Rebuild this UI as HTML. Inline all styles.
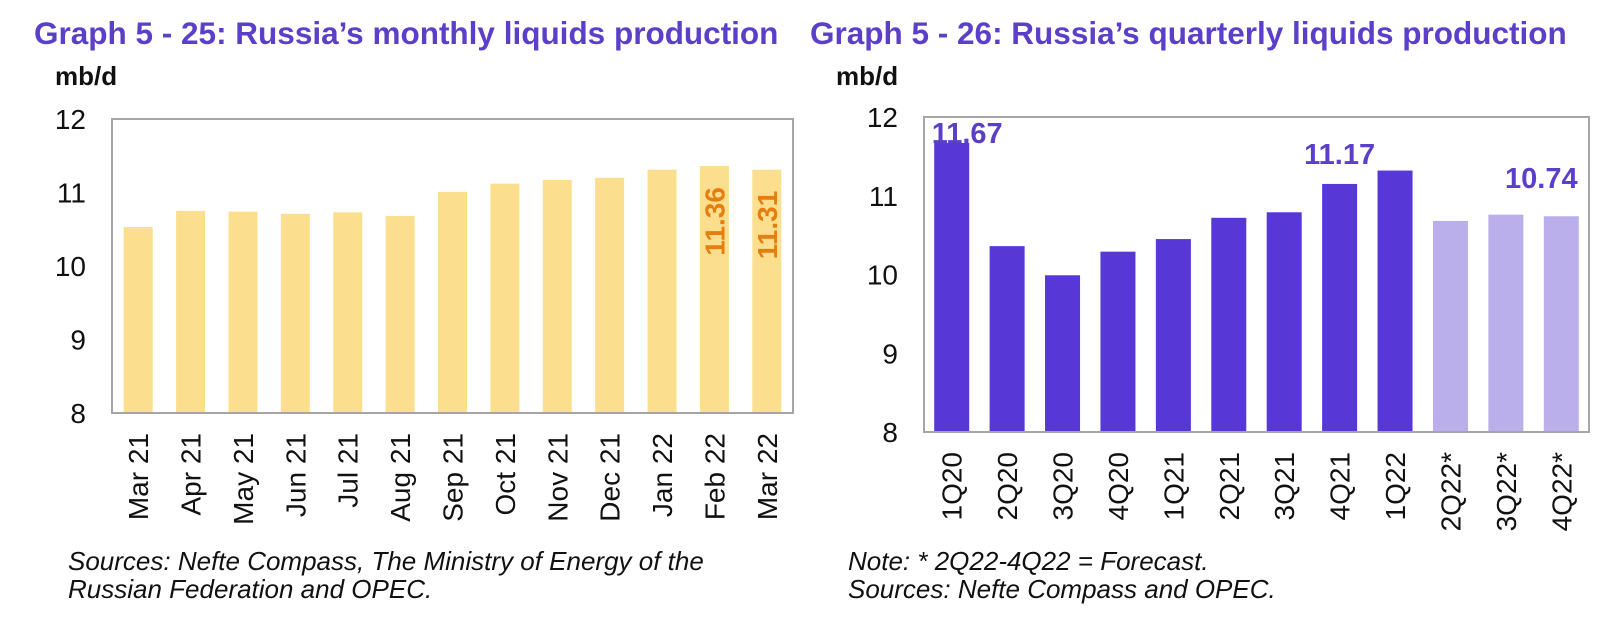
<!DOCTYPE html>
<html><head><meta charset="utf-8"><style>
html,body{margin:0;padding:0;background:#fff;}
svg{display:block;font-family:"Liberation Sans",Arial,sans-serif;}
</style></head><body>
<svg id="s" width="1615" height="624" viewBox="0 0 1615 624">
<text x="34" y="44" font-size="31.5" font-weight="bold" fill="#5B3FC9">Graph 5 - 25: Russia’s monthly liquids production</text>
<text x="55" y="85" font-size="26" font-weight="bold" fill="#111">mb/d</text>
<text x="810" y="44" font-size="31.5" font-weight="bold" fill="#5B3FC9">Graph 5 - 26: Russia’s quarterly liquids production</text>
<text x="836" y="85" font-size="26" font-weight="bold" fill="#111">mb/d</text>
<g id="L"></g>
<g id="R"></g>
<text x="68" y="570" font-size="26" font-style="italic" fill="#111">Sources: Nefte Compass, The Ministry of Energy of the</text>
<text x="68" y="598" font-size="26" font-style="italic" fill="#111">Russian Federation and OPEC.</text>
<text x="848" y="570" font-size="26" font-style="italic" fill="#111">Note: * 2Q22-4Q22 = Forecast.</text>
<text x="848" y="598" font-size="26" font-style="italic" fill="#111">Sources: Nefte Compass and OPEC.</text>
</svg>
<script>
const monthCats = ["Mar 21","Apr 21","May 21","Jun 21","Jul 21","Aug 21","Sep 21","Oct 21","Nov 21","Dec 21","Jan 22","Feb 22","Mar 22"];
const monthVals = [10.53,10.75,10.74,10.71,10.73,10.68,11.01,11.12,11.17,11.20,11.31,11.36,11.31];
const monthLabels = [null,null,null,null,null,null,null,null,null,null,null,"11.36","11.31"];
const quarterCats = ["1Q20","2Q20","3Q20","4Q20","1Q21","2Q21","3Q21","4Q21","1Q22","2Q22*","3Q22*","4Q22*"];
const quarterVals = [11.67,10.36,9.99,10.29,10.45,10.72,10.79,11.15,11.32,10.68,10.76,10.74];
const quarterForecast = [false,false,false,false,false,false,false,false,false,true,true,true];
const quarterLabels = ["11.67",null,null,null,null,null,null,"11.17",null,null,null,"10.74"];
const yTicks = [8,9,10,11,12];
const NS="http://www.w3.org/2000/svg";
function mk(p,t,a){const e=document.createElementNS(NS,t);for(const k in a)e.setAttribute(k,a[k]);p.appendChild(e);return e;}

function drawChart(g, cats, vals, o){
  const y = v => o.bottom - (v-8)/(12-8)*(o.bottom-o.top);
  const band = (o.right-o.left)/cats.length;
  const x = i => o.left + band*(i+0.5);
  yTicks.forEach(t=>{
    const e=mk(g,'text',{x:o.tickX,y:y(t)+10,'font-size':28,'text-anchor':'end',fill:'#111'});
    e.textContent=t;
    
    
  });
  cats.forEach((c,i)=>{
    const r=mk(g,'rect',{x:x(i)-o.bw/2,y:y(vals[i]),width:o.bw,height:o.bottom-y(vals[i]),fill:o.color(i)});
    
    
    const t=mk(g,'text',{x:0,y:0,'font-size':28,'text-anchor':'end',fill:'#111',transform:`translate(${x(i)+10},${o.bottom+20}) rotate(-90)`});
    t.textContent=c;
    
    
  });
  mk(g,'rect',{x:o.left,y:o.top,width:o.right-o.left,height:o.bottom-o.top,fill:'none',stroke:'#a6a6a6','stroke-width':2});
  return {x,y};
}

const L=document.getElementById('L');
const lf=drawChart(L,monthCats,monthVals,{left:112,right:793,top:119,bottom:413,bw:29,tickX:86,color:()=> '#FCDF8E'});
monthLabels.forEach((s,i)=>{ if(!s) return;
  const t=mk(L,'text',{x:0,y:0,'font-size':28,'font-weight':'bold','text-anchor':'end',fill:'#E57E0E',transform:`translate(${lf.x(i)+10},${lf.y(monthVals[i])+21}) rotate(-90)`});
  t.textContent=s;
  
  
});

const R=document.getElementById('R');
const rf=drawChart(R,quarterCats,quarterVals,{left:924,right:1589,top:117,bottom:432,bw:35,tickX:898,color:i=>quarterForecast[i]?'#BAAFEA':'#5837D7'});
quarterLabels.forEach((s,i)=>{ if(!s) return;
  let anchor='middle', xx=rf.x(i);
  if(i===0){anchor='start'; xx=rf.x(i)-20;}
  if(i===quarterCats.length-1){xx=rf.x(i)-20;}
  const t=mk(R,'text',{x:xx,y:rf.y(quarterVals[i])-(i===0?0:i===7?20:28),'font-size':29,'font-weight':'bold','text-anchor':anchor,fill:'#5B3FC9'});
  t.textContent=s;
  
  
});
</script>
</body></html>
